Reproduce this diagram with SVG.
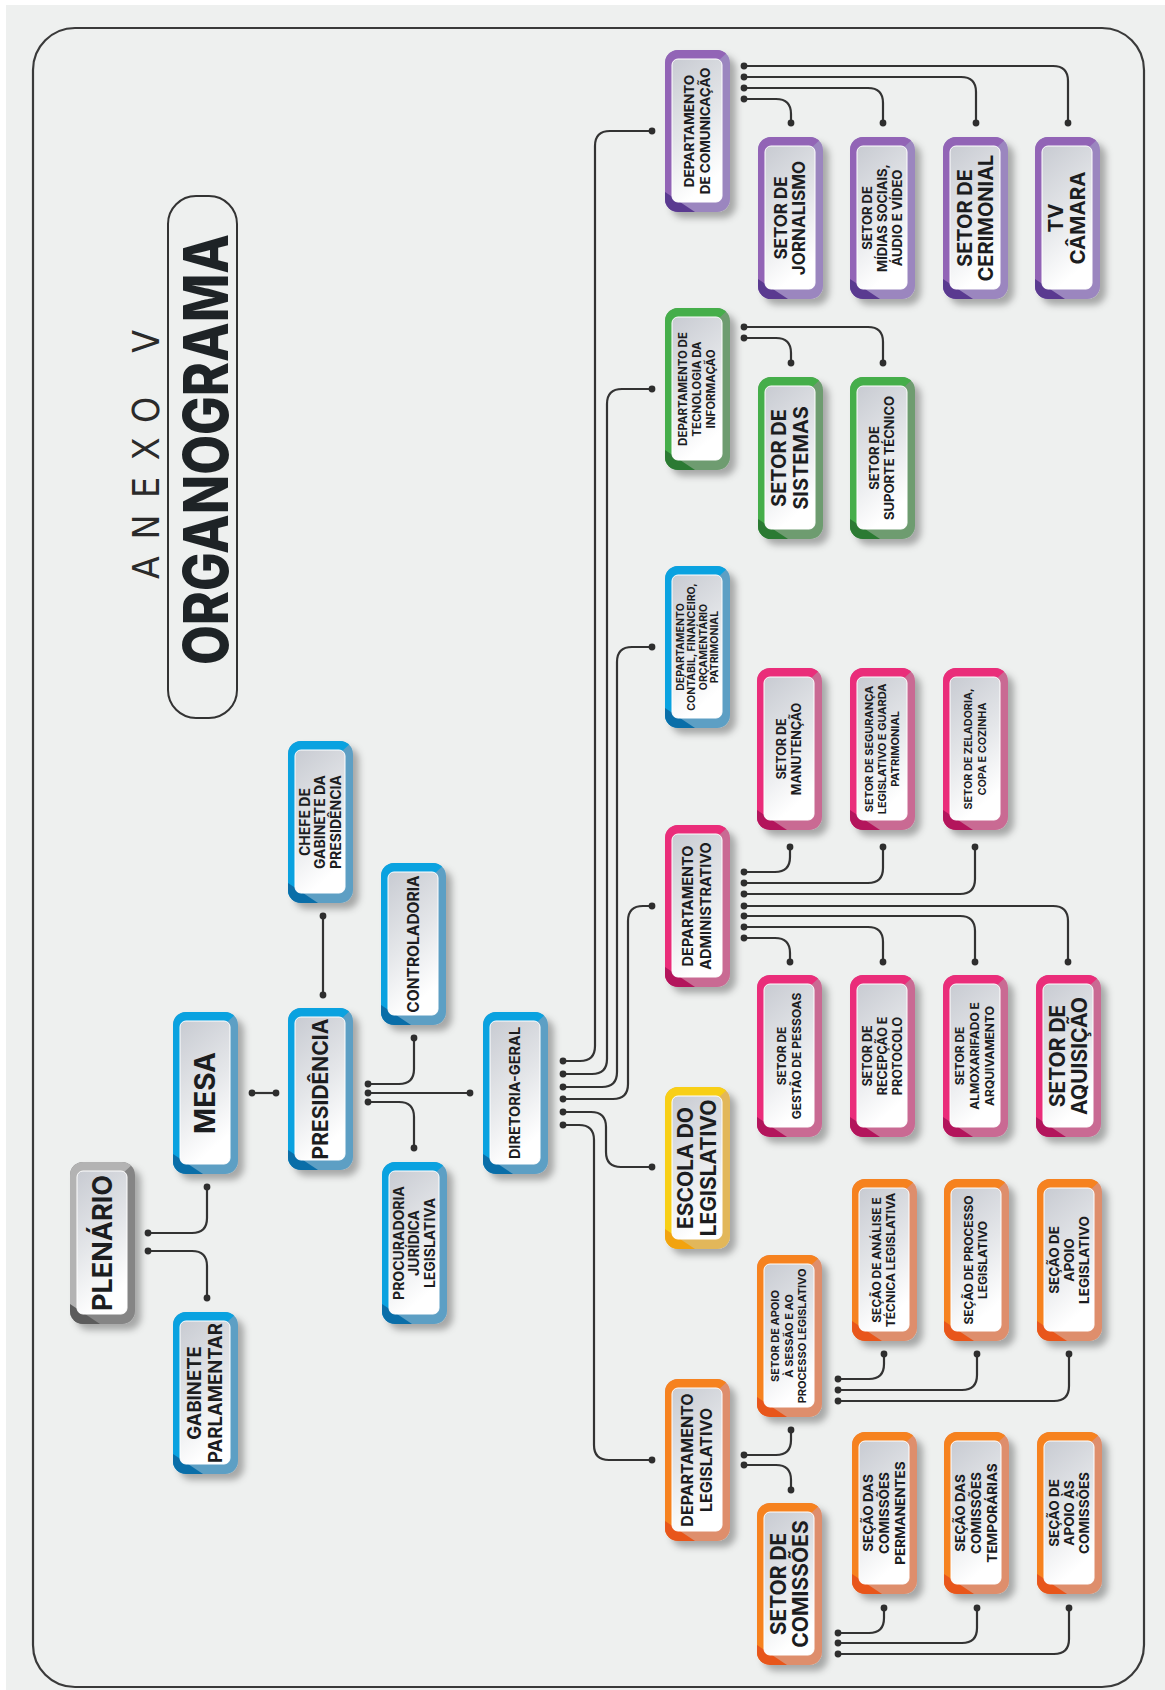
<svg xmlns="http://www.w3.org/2000/svg" width="1165" height="1690" viewBox="0 0 1165 1690">
<defs>
<style>
.t{font-family:Inter,"DejaVu Sans",sans-serif;font-weight:700;fill:#1c1d1f;text-anchor:middle}
.c{fill:none;stroke:#333;stroke-width:2.2;marker-start:url(#dot);marker-end:url(#dot)}
.frame{fill:none;stroke:#3a3a3a;stroke-width:2.2}
</style>
<marker id="dot" markerUnits="userSpaceOnUse" markerWidth="9" markerHeight="9" viewBox="-4.5 -4.5 9 9" refX="0" refY="0"><circle r="3.4" fill="#2e2e2e"/></marker>
<filter id="sh" x="-30%" y="-20%" width="160%" height="140%"><feDropShadow dx="6" dy="6" stdDeviation="3.5" flood-color="#000" flood-opacity="0.3"/></filter>
<linearGradient id="gin" x1="0" y1="0" x2="0.3" y2="1"><stop offset="0" stop-color="#c8cbd2"/><stop offset="0.55" stop-color="#e4e6e9"/><stop offset="1" stop-color="#ffffff"/></linearGradient>
<clipPath id="bc"><rect width="65" height="162" rx="13"/></clipPath>
<g id="b-blue"><rect width="65" height="162" rx="13" fill="#5d9fc4" filter="url(#sh)"/><g clip-path="url(#bc)"><path d="M0,0H65L52,12L12,150L0,162Z" fill="#0aa2e0"/><path d="M0,142L0,162L30,162Z" fill="#0a6ea8"/></g><rect x="7" y="9" width="50" height="143" rx="6" fill="url(#gin)" stroke="#fff" stroke-width="1"/></g>
<g id="b-gray"><rect width="65" height="162" rx="13" fill="#858585" filter="url(#sh)"/><g clip-path="url(#bc)"><path d="M0,0H65L52,12L12,150L0,162Z" fill="#b3b3b3"/><path d="M0,142L0,162L30,162Z" fill="#5c5c5c"/></g><rect x="7" y="9" width="50" height="143" rx="6" fill="url(#gin)" stroke="#fff" stroke-width="1"/></g>
<g id="b-yellow"><rect width="65" height="162" rx="13" fill="#e2b75a" filter="url(#sh)"/><g clip-path="url(#bc)"><path d="M0,0H65L52,12L12,150L0,162Z" fill="#f8cf16"/><path d="M0,142L0,162L30,162Z" fill="#f2a30f"/></g><rect x="7" y="9" width="50" height="143" rx="6" fill="url(#gin)" stroke="#fff" stroke-width="1"/></g>
<g id="b-orange"><rect width="65" height="162" rx="13" fill="#de8e6c" filter="url(#sh)"/><g clip-path="url(#bc)"><path d="M0,0H65L52,12L12,150L0,162Z" fill="#f6821f"/><path d="M0,142L0,162L30,162Z" fill="#e8561b"/></g><rect x="7" y="9" width="50" height="143" rx="6" fill="url(#gin)" stroke="#fff" stroke-width="1"/></g>
<g id="b-pink"><rect width="65" height="162" rx="13" fill="#c96b93" filter="url(#sh)"/><g clip-path="url(#bc)"><path d="M0,0H65L52,12L12,150L0,162Z" fill="#ea2d7a"/><path d="M0,142L0,162L30,162Z" fill="#b3155c"/></g><rect x="7" y="9" width="50" height="143" rx="6" fill="url(#gin)" stroke="#fff" stroke-width="1"/></g>
<g id="b-green"><rect width="65" height="162" rx="13" fill="#6e9c70" filter="url(#sh)"/><g clip-path="url(#bc)"><path d="M0,0H65L52,12L12,150L0,162Z" fill="#45ae4a"/><path d="M0,142L0,162L30,162Z" fill="#2b7a33"/></g><rect x="7" y="9" width="50" height="143" rx="6" fill="url(#gin)" stroke="#fff" stroke-width="1"/></g>
<g id="b-purple"><rect width="65" height="162" rx="13" fill="#9b86bf" filter="url(#sh)"/><g clip-path="url(#bc)"><path d="M0,0H65L52,12L12,150L0,162Z" fill="#9264b6"/><path d="M0,142L0,162L30,162Z" fill="#5a3a90"/></g><rect x="7" y="9" width="50" height="143" rx="6" fill="url(#gin)" stroke="#fff" stroke-width="1"/></g>
</defs>

<rect width="1165" height="1690" fill="#ffffff"/>
<rect x="6" y="5" width="1159" height="1685" fill="#eef0ef"/>
<rect class="frame" x="33" y="28" width="1111" height="1659" rx="42"/>

<g id="title">
<rect x="168" y="196" width="69" height="522" rx="28" fill="none" stroke="#333" stroke-width="2"/>
<text transform="translate(145.5,454.5) rotate(-90)" y="13.5" font-family="'DejaVu Sans Condensed','DejaVu Sans',sans-serif" font-weight="300" font-size="37" fill="#2a2a2a" text-anchor="middle" textLength="249" lengthAdjust="spacing">ANEXO V</text>
<text transform="translate(205.5,449.5) rotate(-90)" y="22.5" font-family="Inter,'DejaVu Sans',sans-serif" font-weight="800" font-size="62" fill="#1e2326" text-anchor="middle" textLength="431" lengthAdjust="spacingAndGlyphs">ORGANOGRAMA</text>
</g>

<g id="connectors">
<path class="c" d="M148,1233H192Q207,1233 207,1218V1187"/>
<path class="c" d="M148,1251H192Q207,1251 207,1266V1298"/>
<path class="c" d="M252,1093H276"/>
<path class="c" d="M323,995V916"/>
<path class="c" d="M368,1084H399Q414,1084 414,1069V1038"/>
<path class="c" d="M368,1093H470"/>
<path class="c" d="M368,1102H399Q414,1102 414,1117V1148"/>
<path class="c" d="M563,1061H580Q595,1061 595,1046V146Q595,131 610,131H652"/>
<path class="c" d="M563,1074H592Q607,1074 607,1059V404Q607,389 622,389H652"/>
<path class="c" d="M563,1087H602Q617,1087 617,1072V662Q617,647 632,647H652"/>
<path class="c" d="M563,1099H613Q628,1099 628,1084V921Q628,906 643,906H652"/>
<path class="c" d="M563,1112H591Q606,1112 606,1127V1152Q606,1167 621,1167H652"/>
<path class="c" d="M563,1125H579Q594,1125 594,1140V1445Q594,1460 609,1460H652"/>
<path class="c" d="M744,99H776Q791,99 791,114V123"/>
<path class="c" d="M744,88H868Q883,88 883,103V123"/>
<path class="c" d="M744,77H961Q976,77 976,92V123"/>
<path class="c" d="M744,66H1053Q1068,66 1068,81V123"/>
<path class="c" d="M744,338H776Q791,338 791,353V363"/>
<path class="c" d="M744,327H868Q883,327 883,342V363"/>
<path class="c" d="M744,872H775Q790,872 790,857V847"/>
<path class="c" d="M744,883H868Q883,883 883,868V847"/>
<path class="c" d="M744,894H960Q975,894 975,879V847"/>
<path class="c" d="M744,906H1053Q1068,906 1068,921V962"/>
<path class="c" d="M744,916H960Q975,916 975,931V962"/>
<path class="c" d="M744,927H868Q883,927 883,942V962"/>
<path class="c" d="M744,938H775Q790,938 790,953V962"/>
<path class="c" d="M744,1455H776Q791,1455 791,1440V1430"/>
<path class="c" d="M744,1465H776Q791,1465 791,1480V1490"/>
<path class="c" d="M838,1379H869Q884,1379 884,1364V1354"/>
<path class="c" d="M838,1390H962Q977,1390 977,1375V1354"/>
<path class="c" d="M838,1401H1054Q1069,1401 1069,1386V1354"/>
<path class="c" d="M838,1633H869Q884,1633 884,1618V1608"/>
<path class="c" d="M838,1643H962Q977,1643 977,1628V1608"/>
<path class="c" d="M838,1654H1054Q1069,1654 1069,1639V1608"/>
</g>

<g id="plenario" transform="translate(70,1162)"><use href="#b-gray"/><text class="t" transform="translate(32,81) rotate(-90)" font-size="27"><tspan x="0" y="9.7">PLENÁRIO</tspan></text></g>
<g id="mesa" transform="translate(173,1012)"><use href="#b-blue"/><text class="t" transform="translate(32,81) rotate(-90)" font-size="28"><tspan x="0" y="10.1">MESA</tspan></text></g>
<g id="gabinete-parlamentar" transform="translate(173,1312)"><use href="#b-blue"/><text class="t" transform="translate(32,81) rotate(-90)" font-size="18.5"><tspan x="0" y="-3.84">GABINETE</tspan><tspan x="0" y="17.16">PARLAMENTAR</tspan></text></g>
<g id="presidencia" transform="translate(288,1008)"><use href="#b-blue"/><text class="t" transform="translate(32,81) rotate(-90)" font-size="21"><tspan x="0" y="7.56">PRESIDÊNCIA</tspan></text></g>
<g id="chefe-gabinete" transform="translate(288,741)"><use href="#b-blue"/><text class="t" transform="translate(32,81) rotate(-90)" font-size="14"><tspan x="0" y="-10.46">CHEFE DE</tspan><tspan x="0" y="5.04">GABINETE DA</tspan><tspan x="0" y="20.54">PRESIDÊNCIA</tspan></text></g>
<g id="controladoria" transform="translate(381,863)"><use href="#b-blue"/><text class="t" transform="translate(32,81) rotate(-90)" font-size="15.5"><tspan x="0" y="5.58">CONTROLADORIA</tspan></text></g>
<g id="procuradoria" transform="translate(382,1162)"><use href="#b-blue"/><text class="t" transform="translate(32,81) rotate(-90)" font-size="14"><tspan x="0" y="-10.46">PROCURADORIA</tspan><tspan x="0" y="5.04">JURÍDICA</tspan><tspan x="0" y="20.54">LEGISLATIVA</tspan></text></g>
<g id="diretoria-geral" transform="translate(483,1012)"><use href="#b-blue"/><text class="t" transform="translate(32,81) rotate(-90)" font-size="14.5"><tspan x="0" y="5.22">DIRETORIA-GERAL</tspan></text></g>

<g id="dep-comunicacao" transform="translate(665,50)"><use href="#b-purple"/><text class="t" transform="translate(32,81) rotate(-90)" font-size="13.5"><tspan x="0" y="-3.14">DEPARTAMENTO</tspan><tspan x="0" y="12.86">DE COMUNICAÇÃO</tspan></text></g>
<g id="setor-jornalismo" transform="translate(758,137)"><use href="#b-purple"/><text class="t" transform="translate(32,81) rotate(-90)" font-size="17"><tspan x="0" y="-2.88">SETOR DE</tspan><tspan x="0" y="15.12">JORNALISMO</tspan></text></g>
<g id="setor-midias" transform="translate(850,137)"><use href="#b-purple"/><text class="t" transform="translate(32,81) rotate(-90)" font-size="13"><tspan x="0" y="-10.32">SETOR DE</tspan><tspan x="0" y="4.68">MÍDIAS SOCIAIS,</tspan><tspan x="0" y="19.68">ÁUDIO E VÍDEO</tspan></text></g>
<g id="setor-cerimonial" transform="translate(943,137)"><use href="#b-purple"/><text class="t" transform="translate(32,81) rotate(-90)" font-size="20"><tspan x="0" y="-3.3">SETOR DE</tspan><tspan x="0" y="17.7">CERIMONIAL</tspan></text></g>
<g id="tv-camara" transform="translate(1035,137)"><use href="#b-purple"/><text class="t" transform="translate(32,81) rotate(-90)" font-size="20.5"><tspan x="0" y="-3.62">TV</tspan><tspan x="0" y="18.38">CÂMARA</tspan></text></g>

<g id="dep-ti" transform="translate(665,308)"><use href="#b-green"/><text class="t" transform="translate(32,81) rotate(-90)" font-size="11.5"><tspan x="0" y="-9.86">DEPARTAMENTO DE</tspan><tspan x="0" y="4.14">TECNOLOGIA DA</tspan><tspan x="0" y="18.14">INFORMAÇÃO</tspan></text></g>
<g id="setor-sistemas" transform="translate(758,377)"><use href="#b-green"/><text class="t" transform="translate(32,81) rotate(-90)" font-size="20"><tspan x="0" y="-3.8">SETOR DE</tspan><tspan x="0" y="18.2">SISTEMAS</tspan></text></g>
<g id="setor-suporte" transform="translate(850,377)"><use href="#b-green"/><text class="t" transform="translate(32,81) rotate(-90)" font-size="13"><tspan x="0" y="-2.82">SETOR DE</tspan><tspan x="0" y="12.18">SUPORTE TÉCNICO</tspan></text></g>

<g id="dep-contabil" transform="translate(665,566)"><use href="#b-blue"/><text class="t" transform="translate(32,81) rotate(-90)" font-size="10.5"><tspan x="0" y="-13.47">DEPARTAMENTO</tspan><tspan x="0" y="-1.97">CONTÁBIL, FINANCEIRO,</tspan><tspan x="0" y="9.53">ORÇAMENTÁRIO</tspan><tspan x="0" y="21.03">PATRIMONIAL</tspan></text></g>

<g id="dep-administrativo" transform="translate(665,825)"><use href="#b-pink"/><text class="t" transform="translate(32,81) rotate(-90)" font-size="14.5"><tspan x="0" y="-3.78">DEPARTAMENTO</tspan><tspan x="0" y="14.22">ADMINISTRATIVO</tspan></text></g>
<g id="setor-manutencao" transform="translate(757,668)"><use href="#b-pink"/><text class="t" transform="translate(32,81) rotate(-90)" font-size="12.5"><tspan x="0" y="-3">SETOR DE</tspan><tspan x="0" y="12">MANUTENÇÃO</tspan></text></g>
<g id="setor-seguranca" transform="translate(850,668)"><use href="#b-pink"/><text class="t" transform="translate(32,81) rotate(-90)" font-size="11"><tspan x="0" y="-8.74">SETOR DE SEGURANÇA</tspan><tspan x="0" y="3.96">LEGISLATIVO E GUARDA</tspan><tspan x="0" y="16.66">PATRIMONIAL</tspan></text></g>
<g id="setor-zeladoria" transform="translate(943,668)"><use href="#b-pink"/><text class="t" transform="translate(32,81) rotate(-90)" font-size="10.8" font-weight="600"><tspan x="0" y="-2.76">SETOR DE ZELADORIA,</tspan><tspan x="0" y="10.54">COPA E COZINHA</tspan></text></g>
<g id="setor-gestao" transform="translate(757,975)"><use href="#b-pink"/><text class="t" transform="translate(32,81) rotate(-90)" font-size="12"><tspan x="0" y="-3.18">SETOR DE</tspan><tspan x="0" y="11.82">GESTÃO DE PESSOAS</tspan></text></g>
<g id="setor-recepcao" transform="translate(850,975)"><use href="#b-pink"/><text class="t" transform="translate(32,81) rotate(-90)" font-size="12.5"><tspan x="0" y="-10.5">SETOR DE</tspan><tspan x="0" y="4.5">RECEPÇÃO E</tspan><tspan x="0" y="19.5">PROTOCOLO</tspan></text></g>
<g id="setor-almoxarifado" transform="translate(943,975)"><use href="#b-pink"/><text class="t" transform="translate(32,81) rotate(-90)" font-size="12"><tspan x="0" y="-10.68">SETOR DE</tspan><tspan x="0" y="4.32">ALMOXARIFADO E</tspan><tspan x="0" y="19.32">ARQUIVAMENTO</tspan></text></g>
<g id="setor-aquisicao" transform="translate(1036,975)"><use href="#b-pink"/><text class="t" transform="translate(32,81) rotate(-90)" font-size="21"><tspan x="0" y="-3.44">SETOR DE</tspan><tspan x="0" y="18.56">AQUISIÇÃO</tspan></text></g>

<g id="escola-legislativo" transform="translate(665,1087)"><use href="#b-yellow"/><text class="t" transform="translate(32,81) rotate(-90)" font-size="21"><tspan x="0" y="-3.94">ESCOLA DO</tspan><tspan x="0" y="19.06">LEGISLATIVO</tspan></text></g>

<g id="dep-legislativo" transform="translate(665,1379)"><use href="#b-orange"/><text class="t" transform="translate(32,81) rotate(-90)" font-size="16"><tspan x="0" y="-3.74">DEPARTAMENTO</tspan><tspan x="0" y="15.26">LEGISLATIVO</tspan></text></g>
<g id="setor-apoio-sessao" transform="translate(757,1255)"><use href="#b-orange"/><text class="t" transform="translate(32,81) rotate(-90)" font-size="11"><tspan x="0" y="-9.54">SETOR DE APOIO</tspan><tspan x="0" y="3.96">À SESSÃO E AO</tspan><tspan x="0" y="17.46">PROCESSO LEGISLATIVO</tspan></text></g>
<g id="secao-analise" transform="translate(852,1179)"><use href="#b-orange"/><text class="t" transform="translate(32,81) rotate(-90)" font-size="12"><tspan x="0" y="-2.68">SEÇÃO DE ANÁLISE E</tspan><tspan x="0" y="11.32">TÉCNICA LEGISLATIVA</tspan></text></g>
<g id="secao-processo" transform="translate(944,1179)"><use href="#b-orange"/><text class="t" transform="translate(32,81) rotate(-90)" font-size="12"><tspan x="0" y="-2.68">SEÇÃO DE PROCESSO</tspan><tspan x="0" y="11.32">LEGISLATIVO</tspan></text></g>
<g id="secao-apoio-legislativo" transform="translate(1037,1179)"><use href="#b-orange"/><text class="t" transform="translate(32,81) rotate(-90)" font-size="13.5"><tspan x="0" y="-10.14">SEÇÃO DE</tspan><tspan x="0" y="4.86">APOIO</tspan><tspan x="0" y="19.86">LEGISLATIVO</tspan></text></g>
<g id="setor-comissoes" transform="translate(757,1503)"><use href="#b-orange"/><text class="t" transform="translate(32,81) rotate(-90)" font-size="21"><tspan x="0" y="-3.44">SETOR DE</tspan><tspan x="0" y="18.56">COMISSÕES</tspan></text></g>
<g id="secao-permanentes" transform="translate(852,1432)"><use href="#b-orange"/><text class="t" transform="translate(32,81) rotate(-90)" font-size="13.5"><tspan x="0" y="-11.14">SEÇÃO DAS</tspan><tspan x="0" y="4.86">COMISSÕES</tspan><tspan x="0" y="20.86">PERMANENTES</tspan></text></g>
<g id="secao-temporarias" transform="translate(944,1432)"><use href="#b-orange"/><text class="t" transform="translate(32,81) rotate(-90)" font-size="13.5"><tspan x="0" y="-11.14">SEÇÃO DAS</tspan><tspan x="0" y="4.86">COMISSÕES</tspan><tspan x="0" y="20.86">TEMPORÁRIAS</tspan></text></g>
<g id="secao-apoio-comissoes" transform="translate(1037,1432)"><use href="#b-orange"/><text class="t" transform="translate(32,81) rotate(-90)" font-size="13.5"><tspan x="0" y="-10.14">SEÇÃO DE</tspan><tspan x="0" y="4.86">APOIO ÀS</tspan><tspan x="0" y="19.86">COMISSÕES</tspan></text></g>
</svg>
